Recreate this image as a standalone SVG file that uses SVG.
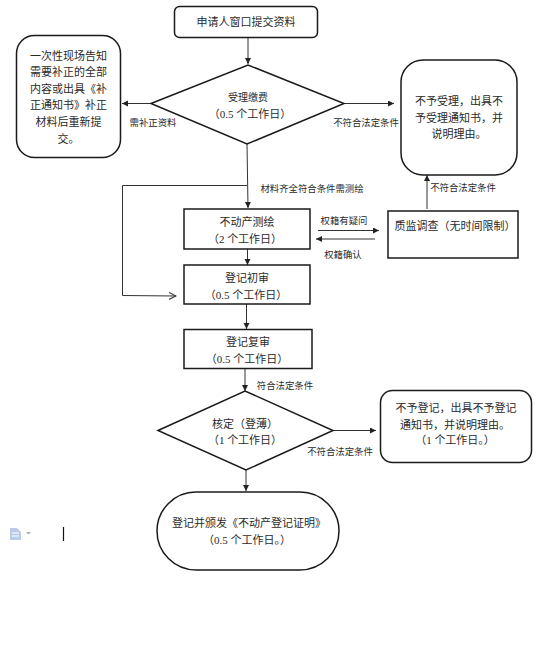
<svg xmlns="http://www.w3.org/2000/svg" width="554" height="652" viewBox="0 0 554 652">
<style>
text{font-family:"Noto Sans CJK SC","Liberation Sans",sans-serif;font-size:11px;fill:#2a2a2a;text-anchor:middle}
.l{font-size:9.4px}
.n{font-family:"Liberation Serif",serif}
.s{fill:#fff;stroke:#1a1a1a;stroke-width:1.5}
.c{fill:none;stroke:#333;stroke-width:1}
</style>
<defs>
<marker id="a" markerWidth="7" markerHeight="7" refX="6" refY="3" orient="auto" markerUnits="userSpaceOnUse"><path d="M0 0L6 3L0 6Z" fill="#222"/></marker>
<marker id="o" markerWidth="8" markerHeight="8" refX="7" refY="3.5" orient="auto" markerUnits="userSpaceOnUse"><path d="M0 0L7 3.5L0 7" fill="none" stroke="#333"/></marker>
</defs>
<rect width="554" height="652" fill="#fff"/>
<g id="connectors">
<path class="c" d="M248 38V64" marker-end="url(#a)"/>
<path class="c" d="M151 103.500H122" marker-end="url(#a)"/>
<path class="c" d="M344 103.500H394" marker-end="url(#a)"/>
<path class="c" d="M247 144L248 208" marker-end="url(#a)"/>
<path class="c" d="M247 185.500H122.500V295.500L176 296" marker-end="url(#o)"/>
<path class="c" d="M247.500 249V265" marker-end="url(#a)"/>
<path class="c" d="M246.500 304V329" marker-end="url(#a)"/>
<path class="c" d="M245 369V391" marker-end="url(#a)"/>
<path class="c" d="M246 470V491" marker-end="url(#a)"/>
<path class="c" d="M318 230.500H379" marker-end="url(#a)"/>
<path class="c" d="M375 239H316" marker-end="url(#a)"/>
<path class="c" d="M427 209V175" marker-end="url(#a)"/>
<path class="c" d="M333 430.500H376" marker-end="url(#a)"/>
</g>
<g id="start"><rect class="s" x="174.500" y="6.500" width="143" height="31" rx="5"/><text x="246" y="26">申请人窗口提交资料</text></g>
<g id="accept"><path class="s" d="M151 103.500L248 65L344 103.500L247 144Z"/><text x="248" y="101" style="font-size:10px">受理缴费</text><text x="250" y="118">（<tspan class="n">0.5 </tspan>个工作日）</text></g>
<g id="notify"><rect class="s" x="16.500" y="35.500" width="104" height="122" rx="18"/>
<text x="68.500" y="60">一次性现场告知</text><text x="68.500" y="76">需要补正的全部</text><text x="68.500" y="93">内容或出具《补</text><text x="68.500" y="109">正通知书》补正</text><text x="68.500" y="126">材料后重新提</text><text x="68.500" y="143">交。</text></g>
<g id="reject"><rect class="s" x="401" y="60" width="116" height="115" rx="22"/>
<text x="459" y="105">不予受理，出具不</text><text x="459" y="122">予受理通知书，并</text><text x="459" y="138">说明理由。</text></g>
<g id="survey"><rect class="s" x="184" y="209" width="126" height="40"/><text x="247" y="226">不动产测绘</text><text x="245" y="243">（<tspan class="n">2 </tspan>个工作日）</text></g>
<g id="quality"><rect class="s" x="388" y="211" width="130" height="47"/><text x="455" y="230">质监调查（无时间限制）</text></g>
<g id="first"><rect class="s" x="184" y="265" width="126" height="39"/><text x="247" y="282">登记初审</text><text x="246" y="299">（<tspan class="n">0.5 </tspan>个工作日）</text></g>
<g id="second"><rect class="s" x="184" y="329.500" width="128" height="39"/><text x="248" y="346">登记复审</text><text x="247" y="363">（<tspan class="n">0.5 </tspan>个工作日）</text></g>
<g id="verify"><path class="s" d="M158 430.500L245 391L333 430.500L246 470Z"/><text x="245" y="428">核定（登薄）</text><text x="245" y="444">（<tspan class="n">1 </tspan>个工作日）</text></g>
<g id="refuse"><rect class="s" x="380.500" y="390.500" width="151" height="72" rx="12"/>
<text x="456" y="412">不予登记，出具不予登记</text><text x="455" y="429">通知书，并说明理由。</text><text x="455" y="444">（<tspan class="n">1 </tspan>个工作日。）</text></g>
<g id="issue"><rect class="s" x="157" y="492" width="182" height="78" rx="39"/><text x="249" y="527">登记并颁发《不动产登记证明》</text><text x="247" y="544">（<tspan class="n">0.5 </tspan>个工作日。）</text></g>
<g id="labels">
<text class="l" x="153" y="126">需补正资料</text>
<text class="l" x="366" y="126">不符合法定条件</text>
<text class="l" x="312" y="192">材料齐全符合条件需测绘</text>
<text class="l" x="463" y="191">不符合法定条件</text>
<text class="l" x="344" y="224">权籍有疑问</text>
<text class="l" x="343" y="258">权籍确认</text>
<text class="l" x="285" y="389">符合法定条件</text>
<text class="l" x="340" y="455">不符合法定条件</text>
</g>
<path d="M10 528h7l4 4v8h-11z" fill="#b9cdea"/><path d="M12 533h7M12 536h7" stroke="#fff"/>
<path d="M26 532h5l-2.500 2.500z" fill="#aaa"/>
<path d="M63.500 527V541" stroke="#111" stroke-width="1.200"/>
</svg>
